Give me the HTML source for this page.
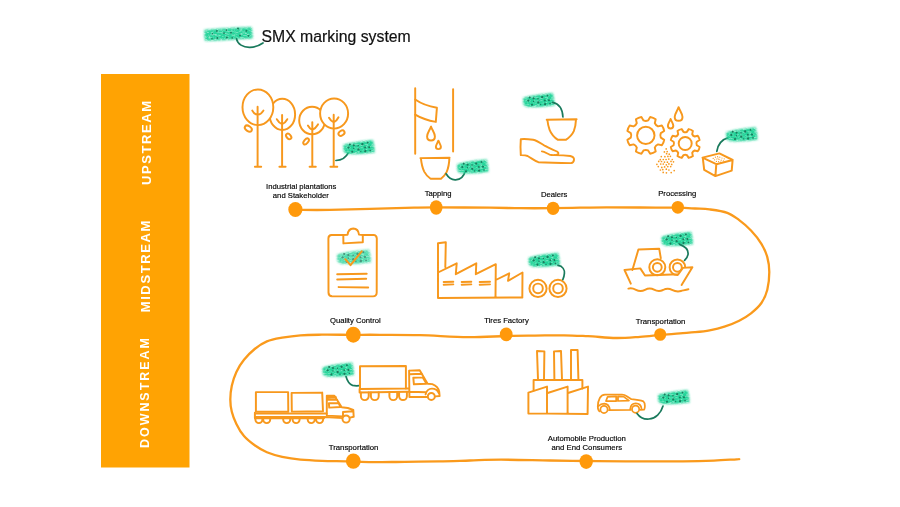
<!DOCTYPE html>
<html>
<head>
<meta charset="utf-8">
<title>SMX marking system</title>
<style>
html,body{margin:0;padding:0;background:#fff;}
body{width:900px;height:507px;overflow:hidden;font-family:"Liberation Sans",sans-serif;}
svg{display:block;}
text{font-family:"Liberation Sans",sans-serif;opacity:0.999;}
.o{fill:none;stroke:#F7981D;stroke-width:1.95;stroke-linecap:round;stroke-linejoin:round;}
.lbl{font-size:7.68px;fill:#000;stroke:#000;stroke-width:0.15px;text-anchor:middle;}
.v{font-size:13px;font-weight:bold;fill:#fff;letter-spacing:1.5px;text-anchor:middle;}
.stem{fill:none;stroke:#197A5C;stroke-width:1.7;stroke-linecap:round;}
</style>
</head>
<body>
<svg width="900" height="507" viewBox="0 0 900 507">
<defs>
<filter id="bl" x="-10%" y="-25%" width="120%" height="150%">
<feGaussianBlur in="SourceGraphic" stdDeviation="0.8" result="b"/>
<feTurbulence type="fractalNoise" baseFrequency="0.35 0.9" numOctaves="2" seed="3" result="n"/>
<feColorMatrix in="n" type="matrix" values="0 0 0 0 0  0 0 0 0 0  0 0 0 0 0  0 0 0 -1.4 1.62" result="m"/>
<feComposite in="b" in2="m" operator="in" result="c"/>
<feGaussianBlur in="c" stdDeviation="0.35"/>
</filter>
<filter id="bl2" x="-20%" y="-20%" width="140%" height="140%"><feGaussianBlur stdDeviation="0.3"/></filter>
<g id="tag">
<path d="M0.3,4.6 L10,2.4 L20,0.9 L29.8,0 L31,6 L31.6,12.4 L20,13.8 L8,14.2 L4.4,14 L0.6,12.2 L0.1,8 Z" fill="#22D398" filter="url(#bl)"/>
<path d="M1,6.2 L30,3.4 M1,9.6 L31,8.2 M3,12.2 L31,11.2" stroke="#3FDDA8" stroke-width="0.8" fill="none" opacity="0.55" filter="url(#bl2)"/>
<g fill="#1A7C5D" filter="url(#bl2)">
<circle cx="6.7" cy="4.4" r="1"/><circle cx="10.6" cy="5.4" r="1.05"/><circle cx="15" cy="5.7" r="0.8"/><circle cx="19.2" cy="4.2" r="1.15"/><circle cx="24.5" cy="2.6" r="0.95"/>
<circle cx="5.3" cy="7.6" r="1.05"/><circle cx="10.6" cy="8.4" r="0.7"/><circle cx="15.3" cy="9.4" r="1.15"/><circle cx="21.9" cy="7.5" r="0.95"/><circle cx="26" cy="7.3" r="1.05"/>
<circle cx="9" cy="11.8" r="1.05"/><circle cx="17.6" cy="11.6" r="0.7"/><circle cx="22.1" cy="11.2" r="1.15"/><circle cx="27" cy="10.6" r="0.8"/>
</g>
</g>
</defs>

<!-- SIDEBAR -->
<rect x="101" y="74" width="88.5" height="393.5" fill="#FFA303"/>
<text class="v" transform="translate(151.4,142.2) rotate(-90)" style="letter-spacing:1.57px">UPSTREAM</text>
<text class="v" transform="translate(150.1,265.65) rotate(-90)" style="letter-spacing:1.62px">MIDSTREAM</text>
<text class="v" transform="translate(149.1,392.1) rotate(-90)" style="font-size:12.5px;letter-spacing:1.95px">DOWNSTREAM</text>

<!-- LEGEND -->
<g id="legend">
<path d="M204.4,29.8 L220,28.6 L236,27.6 L251.8,26.9 L252.4,32 L252.8,38.4 L236,39.6 L220,40.6 L205,41 L204.2,35 Z" fill="#2BD59D" filter="url(#bl)"/>
<g fill="#1A7C5D" filter="url(#bl2)">
<circle cx="216.9" cy="31" r="0.9"/><circle cx="226.4" cy="30.1" r="0.85"/><circle cx="238" cy="28.6" r="1"/><circle cx="246.4" cy="30.9" r="0.95"/>
<circle cx="212.4" cy="33.8" r="0.8"/><circle cx="224" cy="33.1" r="0.95"/><circle cx="231" cy="32.8" r="0.95"/><circle cx="240" cy="35.6" r="1"/><circle cx="248.4" cy="35.8" r="0.9"/>
<circle cx="212" cy="38.7" r="0.8"/><circle cx="217.4" cy="38" r="0.95"/><circle cx="226.9" cy="37.5" r="0.95"/><circle cx="232.2" cy="37.9" r="0.8"/>
</g>
<path class="stem" d="M236.5,38.9 C237.5,44 243,47.6 250,47.4 C255,47.2 259.5,45.4 263,43"/>
<text x="261.5" y="41.8" font-size="15.8px" fill="#111" stroke="#111" stroke-width="0.2">SMX marking system</text>
</g>

<!-- TIMELINE -->
<g id="timeline">
<path d="M295.4,209.9 C301.2,209.9 317.6,210.1 330.0,209.9 C342.4,209.7 356.0,209.3 370.0,208.9 C384.0,208.5 403.0,207.9 414.0,207.7 C425.0,207.4 423.3,207.4 436.0,207.4 C448.7,207.4 476.0,207.6 490.0,207.7 C504.0,207.8 509.6,208.1 520.0,208.2 C530.5,208.3 542.7,208.3 552.7,208.2 C562.7,208.1 571.0,207.8 580.0,207.7 C589.0,207.5 596.7,207.3 606.7,207.3 C616.7,207.3 628.2,207.4 640.0,207.5 C651.8,207.6 668.5,207.5 677.7,207.7 C686.9,207.9 689.7,208.2 695.0,208.5 C700.3,208.8 704.2,208.7 709.6,209.4 C715.0,210.1 722.4,211.0 727.3,212.8 C732.2,214.6 735.2,217.2 739.2,220.1 C743.2,223.0 747.3,226.6 751.0,230.5 C754.7,234.4 758.7,239.4 761.4,243.8 C764.1,248.2 766.0,252.4 767.3,257.1 C768.6,261.8 769.3,266.5 769.3,271.9 C769.3,277.3 768.6,284.5 767.3,289.7 C766.0,294.9 764.1,299.1 761.4,303.0 C758.7,306.9 754.7,310.4 751.0,313.3 C747.3,316.2 743.6,318.5 739.2,320.7 C734.8,322.9 729.3,325.1 724.4,326.7 C719.5,328.3 714.5,329.4 709.6,330.3 C704.7,331.2 699.7,331.7 694.8,332.2 C689.9,332.7 685.8,332.9 680.0,333.4 C674.2,333.9 666.7,334.4 660.0,335.0 C653.3,335.6 647.3,336.3 640.0,336.8 C632.7,337.3 624.7,338.1 616.0,338.0 C607.3,337.9 596.7,336.6 588.0,336.2 C579.3,335.8 572.8,335.4 564.0,335.3 C555.2,335.2 544.7,335.5 535.0,335.6 C525.3,335.7 517.2,335.7 506.0,336.0 C494.8,336.3 482.3,337.3 468.0,337.2 C453.7,337.1 434.7,335.6 420.0,335.2 C405.3,334.8 391.2,334.9 380.0,334.8 C368.8,334.7 362.7,334.8 353.0,334.8 C343.3,334.8 330.6,334.6 321.9,334.7 C313.1,334.8 307.1,334.8 300.5,335.3 C293.9,335.8 287.8,336.7 282.2,337.7 C276.6,338.7 271.5,339.5 266.9,341.4 C262.3,343.3 258.5,345.9 254.7,349.0 C250.9,352.1 247.1,355.9 244.0,359.7 C240.9,363.5 238.4,367.6 236.4,371.9 C234.4,376.2 232.8,381.1 231.8,385.7 C230.8,390.3 230.3,395.1 230.3,399.4 C230.3,403.7 230.8,407.6 231.8,411.7 C232.8,415.8 234.4,419.8 236.4,423.9 C238.4,428.0 240.9,432.5 244.0,436.1 C247.1,439.7 250.9,442.6 254.7,445.3 C258.5,448.0 262.3,450.4 266.9,452.3 C271.5,454.2 276.6,455.7 282.2,456.9 C287.8,458.1 293.9,459.0 300.5,459.6 C307.1,460.2 314.2,460.5 321.9,460.8 C329.5,461.1 338.0,461.1 346.4,461.3 C354.8,461.5 362.2,462.1 372.0,462.2 C381.8,462.3 393.8,461.9 405.0,461.8 C416.2,461.7 428.2,461.6 439.0,461.4 C449.8,461.2 459.7,460.8 470.0,460.5 C480.3,460.2 487.7,459.7 501.0,459.7 C514.3,459.7 535.8,460.3 550.0,460.5 C564.2,460.7 573.8,460.9 586.4,461.0 C599.0,461.1 609.5,461.3 625.6,461.4 C641.7,461.5 668.3,461.5 683.0,461.4 C697.7,461.3 705.0,461.0 714.0,460.6 C723.0,460.2 732.6,459.5 736.7,459.3 C740.9,459.1 738.5,459.2 738.9,459.2"
 fill="none" stroke="#FA9A1C" stroke-width="2.3" stroke-linecap="round" stroke-linejoin="round"/>
<g fill="#FF990B">
<ellipse cx="295.4" cy="209.5" rx="7.1" ry="7.4"/><ellipse cx="436.2" cy="207.5" rx="6.3" ry="7.3"/><ellipse cx="553.1" cy="208.3" rx="6.3" ry="6.65"/><ellipse cx="677.8" cy="207.3" rx="6.2" ry="6.4"/>
<ellipse cx="660.2" cy="334.5" rx="6.05" ry="6.3"/><ellipse cx="506.2" cy="334.4" rx="6.4" ry="6.8"/><ellipse cx="353.3" cy="334.7" rx="7.4" ry="8"/>
<ellipse cx="353.3" cy="461.1" rx="7.4" ry="7.6"/><ellipse cx="586.2" cy="461.6" rx="6.7" ry="7.4"/>
</g>
</g>

<!-- ICONS -->
<g id="icons">
<!-- TREES -->
<g class="o">
<ellipse cx="282.3" cy="114.4" rx="12.8" ry="15.6"/>
<ellipse cx="312.1" cy="120.5" rx="12.9" ry="13.8"/>
<ellipse cx="257.9" cy="107.3" rx="15.4" ry="17.8" fill="#fff"/>
<ellipse cx="334.1" cy="113.5" rx="14" ry="15.1" fill="#fff"/>
<path d="M257.6,106.7 L257.6,166.6 M254.9,166.7 L261.2,166.7 M252.3,110.6 Q254,114.2 257.6,114.8 Q261.4,114.2 263.4,110.6"/>
<path d="M282.1,115 L282.1,166.6 M279.4,166.7 L285.6,166.7 M276.8,119.2 Q279,123 282.1,124.2 Q285.2,123 287.3,119.2"/>
<path d="M312.3,122.1 L312.3,166.6 M309.6,166.7 L315.8,166.7 M307.9,125.6 Q309.8,129 312.3,129.9 Q315.4,128.6 318,124.4"/>
<path d="M333.7,114.7 L333.7,166.6 M330.4,166.7 L337.3,166.7 M329,117.8 Q331,121.4 333.7,122.4 Q336.6,121.2 338.5,117.3"/>
<ellipse cx="248.3" cy="128.6" rx="3.9" ry="2.5" transform="rotate(35 248.3 128.6)"/>
<ellipse cx="288.7" cy="136.4" rx="3.2" ry="2.1" transform="rotate(50 288.7 136.4)"/>
<ellipse cx="306.1" cy="141.4" rx="3.6" ry="2" transform="rotate(-50 306.1 141.4)"/>
<ellipse cx="341.5" cy="133.1" rx="3.3" ry="2.3" transform="rotate(-35 341.5 133.1)"/>
</g>
<path class="stem" d="M348.4,152.6 C346,157.5 342,160.2 335.9,160.5"/>
<use href="#tag" x="343.2" y="140"/>
<!-- TAPPING -->
<g class="o">
<path d="M415.2,88.2 L415.2,153.8 M453.1,89.1 L453.1,151.6"/>
<path d="M415.2,99.5 Q424,105.6 436.9,107.8 L435.8,121.9 Q424,120 415.2,114.7"/>
<path d="M431,126.6 C429.6,130.4 427.1,133.2 427.1,136.4 C427.1,138.8 428.8,140.4 431,140.4 C433.2,140.4 434.9,138.8 434.9,136.4 C434.9,133.2 432.4,130.4 431,126.6 Z"/>
<path d="M438.4,140.7 C437.5,143.2 435.9,145 435.9,146.8 C435.9,148.2 437,149.1 438.4,149.1 C439.8,149.1 440.9,148.2 440.9,146.8 C440.9,145 439.3,143.2 438.4,140.7 Z"/>
<path d="M420.4,158.1 L449.6,157.7 M420.9,158.2 C421.4,163.5 422.4,168 424.2,171.6 C425.8,174.6 428,177 430.6,178.7 L441,178.7 C443.4,176.8 445.4,174.6 446.7,171.9 C448.4,168 449.2,163.5 449.4,157.9"/>
</g>
<path class="stem" d="M446.1,173.8 C448.5,177.8 452,180 455.6,179.8 C460.5,179.5 464,176 465.2,171.2"/>
<use href="#tag" x="457" y="159.4"/>

<!-- DEALERS -->
<use href="#tag" x="523" y="93"/>
<path class="stem" d="M552.6,102.4 C558.5,103.6 562.5,108.5 562.9,117"/>
<g class="o">
<path d="M546.7,119.8 L576.6,119.3 M547.4,120 C547.8,123.8 548.4,126.8 549.6,129.8 C551.4,134.2 554.4,137.6 558,139.8 L565.8,139.8 C569.4,137.6 572.2,134.8 573.8,131.2 C575.2,127.8 575.8,123.8 576,119.6"/>
<path d="M541.9,151.4 C544.6,151.6 547,153.6 549.6,154.6 C551.4,155.2 553,155.2 554.6,155.1"/>
<path d="M520.8,139.2 C524.5,138.8 529,139.2 533.2,139.7 C537.6,140.6 541.5,143.8 545.6,146.2 C549.4,148.4 553.6,149.8 557,151.5 C558.6,152.4 558.7,153.4 557.8,154.2 C556.8,155 555.6,155.1 554.4,155.1 C559.5,155.2 565,155.4 570.2,156 C572.8,156.6 574.2,158 574,159.8 C573.8,161.6 572.6,162.8 571,163.1 C560,163 549,162.8 538.4,162.2 C534.4,160.6 531.2,158 527.6,156 C525.4,155.2 523,155.2 520.8,155.1 C520.4,150 520.4,144.5 520.8,139.2 Z"/>
</g>

<!-- PROCESSING -->
<g class="o">
<path d="M660.8,137.7 L664.2,139.8 Q663.7,142.8 661.9,145.3 L658.0,144.4 Q655.7,145.3 654.8,147.6 L655.7,151.5 Q653.2,153.3 650.2,153.8 L648.1,150.4 Q645.8,149.4 643.5,150.4 L641.4,153.8 Q638.4,153.3 635.9,151.5 L636.8,147.6 Q635.9,145.3 633.6,144.4 L629.7,145.3 Q627.9,142.8 627.4,139.8 L630.8,137.7 Q631.8,135.4 630.8,133.1 L627.4,131.0 Q627.9,128.0 629.7,125.5 L633.6,126.4 Q635.9,125.5 636.8,123.2 L635.9,119.3 Q638.4,117.5 641.4,117.0 L643.5,120.4 Q645.8,121.4 648.1,120.4 L650.2,117.0 Q653.2,117.5 655.7,119.3 L654.8,123.2 Q655.7,125.5 658.0,126.4 L661.9,125.5 Q663.7,128.0 664.2,131.0 L660.8,133.1 Q659.8,135.4 660.8,137.7 Z"/><circle cx="645.8" cy="135.4" r="8.7"/>
<path d="M696.8,145.2 L699.6,147.0 Q699.3,149.4 697.8,151.2 L694.6,150.5 Q692.8,151.1 692.2,152.9 L692.9,156.1 Q691.1,157.6 688.7,157.9 L686.9,155.1 Q685.2,154.2 683.5,155.1 L681.7,157.9 Q679.3,157.6 677.5,156.1 L678.2,152.9 Q677.6,151.1 675.8,150.5 L672.6,151.2 Q671.1,149.4 670.8,147.0 L673.6,145.2 Q674.5,143.5 673.6,141.8 L670.8,140.0 Q671.1,137.6 672.6,135.8 L675.8,136.5 Q677.6,135.9 678.2,134.1 L677.5,130.9 Q679.3,129.4 681.7,129.1 L683.5,131.9 Q685.2,132.8 686.9,131.9 L688.7,129.1 Q691.1,129.4 692.9,130.9 L692.2,134.1 Q692.8,135.9 694.6,136.5 L697.8,135.8 Q699.3,137.6 699.6,140.0 L696.8,141.8 Q695.9,143.5 696.8,145.2 Z"/><circle cx="685.2" cy="143.5" r="6.5"/>
<path d="M678.6,107.2 C677.2,111 674.7,113.8 674.7,116.9 C674.7,119.2 676.4,120.8 678.6,120.8 C680.8,120.8 682.5,119.2 682.5,116.9 C682.5,113.8 680,111 678.6,107.2 Z"/>
<path d="M670.6,119 C669.6,121.8 667.9,123.6 667.9,125.8 C667.9,127.4 669.1,128.5 670.6,128.5 C672.1,128.5 673.3,127.4 673.3,125.8 C673.3,123.6 671.6,121.8 670.6,119 Z"/>
<path style="stroke-width:2" d="M702.5,157.6 L719.4,153.4 L732.7,160 L716.3,164.2 Z M702.8,158 L704.2,169.8 L715.4,176.1 L731.7,170.6 L732.6,160.2 M716.3,164.2 L715.4,176.1"/>
</g>
<g fill="#F7981D"><circle cx="666.2" cy="148.9" r="0.85"/><circle cx="664.4" cy="151.9" r="0.85"/><circle cx="667.2" cy="151.6" r="0.85"/><circle cx="666.6" cy="153.7" r="0.85"/><circle cx="669.2" cy="154.2" r="0.85"/><circle cx="661.3" cy="156.6" r="0.85"/><circle cx="664.9" cy="156.7" r="0.85"/><circle cx="667.9" cy="156.4" r="0.85"/><circle cx="670.4" cy="156.3" r="0.85"/><circle cx="660.3" cy="159.7" r="0.85"/><circle cx="663.3" cy="159.5" r="0.85"/><circle cx="666.1" cy="159.5" r="0.85"/><circle cx="668.8" cy="159.1" r="0.85"/><circle cx="672.3" cy="159.5" r="0.85"/><circle cx="658.7" cy="161.4" r="0.85"/><circle cx="661.5" cy="161.5" r="0.85"/><circle cx="664.5" cy="162.1" r="0.85"/><circle cx="667.4" cy="162.2" r="0.85"/><circle cx="671.0" cy="161.4" r="0.85"/><circle cx="673.5" cy="161.8" r="0.85"/><circle cx="656.9" cy="164.3" r="0.85"/><circle cx="660.7" cy="164.0" r="0.85"/><circle cx="663.3" cy="164.0" r="0.85"/><circle cx="666.3" cy="164.8" r="0.85"/><circle cx="668.9" cy="163.9" r="0.85"/><circle cx="671.7" cy="164.4" r="0.85"/><circle cx="658.3" cy="166.6" r="0.85"/><circle cx="661.8" cy="167.4" r="0.85"/><circle cx="664.6" cy="166.9" r="0.85"/><circle cx="667.8" cy="166.6" r="0.85"/><circle cx="670.7" cy="166.6" r="0.85"/><circle cx="660.4" cy="170.0" r="0.85"/><circle cx="662.8" cy="169.6" r="0.85"/><circle cx="666.3" cy="169.2" r="0.85"/><circle cx="668.9" cy="170.0" r="0.85"/><circle cx="674.2" cy="170.6" r="0.85"/><circle cx="671.2" cy="172.6" r="0.85"/><circle cx="663.2" cy="172.4" r="0.85"/><circle cx="666.4" cy="172.8" r="0.85"/><circle cx="713.2" cy="158.4" r="0.6"/><circle cx="715.4" cy="157.2" r="0.6"/><circle cx="717.6" cy="156.6" r="0.6"/><circle cx="719.8" cy="157.2" r="0.6"/><circle cx="722.0" cy="158.0" r="0.6"/><circle cx="724.2" cy="158.8" r="0.6"/><circle cx="714.6" cy="159.8" r="0.6"/><circle cx="716.8" cy="159.0" r="0.6"/><circle cx="719.0" cy="159.4" r="0.6"/><circle cx="721.2" cy="160.2" r="0.6"/><circle cx="723.4" cy="160.8" r="0.6"/><circle cx="716.4" cy="161.4" r="0.6"/><circle cx="718.6" cy="161.6" r="0.6"/><circle cx="720.6" cy="162.2" r="0.6"/><circle cx="718.0" cy="158.0" r="0.6"/></g>
<path class="stem" d="M716.8,151.4 C717.8,144.5 721.6,139.6 728.4,137.6"/>
<use href="#tag" x="726" y="127.3"/>
<!-- QUALITY CONTROL -->
<g transform="translate(336.9,249.6) scale(1.08,1.02)" opacity="0.8"><use href="#tag"/></g>
<g class="o">
<path d="M343.4,235 L331.6,235 Q328.4,235.2 328.4,238.4 L328.5,292.6 Q328.6,296 332,296.2 L373,296.4 Q376.6,296.2 376.7,292.8 L376.8,238.4 Q376.6,235 373.4,234.9 L362.8,234.9"/>
<path d="M343.3,235 L343.4,243.4 L362.8,242.2 L362.8,235 L359,234.6 C358.6,231 356.4,228.6 353.3,228.5 C350,228.6 348,231 347.6,234.7 Z"/>
<path style="stroke-width:2" d="M345.3,259.2 L350.5,265.2 L361.7,251.4"/>
<path d="M337.2,274.2 L366.7,273.7 M337.2,279.5 L366.2,278.7 M338.6,287.1 L368.2,287.5"/>
</g>

<!-- TIRES FACTORY -->
<g class="o">
<path d="M438,243.3 L445.8,242.2 L445.3,267 M438,243.3 L438,298 L522.4,297.5 M438,272.5 L456.7,263.3 L455.8,274.2 L476.3,263.3 L475.8,274.2 L495.8,264.2 L495.5,297.5 M495.8,280 L509.2,273.3 L508,280.8 L522.5,272.5 L522.3,297.5"/>
<path d="M443.7,282 L453.3,281.7 M443.7,284.8 L453.3,284.4 M461.7,282 L471.3,281.7 M461.7,284.8 L471.3,284.4 M479.7,282 L490,281.7 M479.7,284.8 L490,284.4"/>
<circle cx="538" cy="288.4" r="8.6"/><circle cx="538" cy="288.4" r="4.8"/>
<circle cx="558" cy="288.4" r="8.6"/><circle cx="558" cy="288.4" r="4.8"/>
</g>
<use href="#tag" x="528.4" y="252.8"/>
<path class="stem" d="M558,265.4 C563,266 564.6,270 564.4,273.4 C564.2,276 563.6,278 562.8,279.6"/>


<!-- TRUCK 1 (lower left) -->
<g class="o">
<path d="M255.9,392.1 L288.1,392.1 L288.3,411.7 L255.9,411.7 Z M291.6,392.9 L322.2,392.6 L323,411.3 L291.8,411.6 Z"/>
<path d="M254.9,412.6 L254.9,418.1 M254.9,413.4 L326.6,413.4 M255.2,416.9 L324.6,417 L342.9,418.1 M254.9,418.2 L324,418.2"/>
<path d="M255.4,418.2 L255.4,419.6 A3.5,3.5 0 0 0 262.4,419.6 L262.4,418.2 M263.2,418.2 L263.2,419.6 A3.5,3.5 0 0 0 270.2,419.6 L270.2,418.2 M283.2,418.2 L283.2,419.6 A3.5,3.5 0 0 0 290.2,419.6 L290.2,418.2 M292.6,418.2 L292.6,419.6 A3.5,3.5 0 0 0 299.6,419.6 L299.6,418.2 M307.7,418.2 L307.7,419.6 A3.5,3.5 0 0 0 314.7,419.6 L314.7,418.2 M316.1,418.2 L316.1,419.6 A3.5,3.5 0 0 0 323.1,419.6 L323.1,418.2"/>
<path d="M326.8,395.8 L334.4,395.8 L341.7,407.2 L347.8,408 L353.3,410 L353.7,416.8 L350,417.6 M326.8,395.8 L326.8,415.6 L342.6,416.4 M327.3,397.8 L336,397.3 M327.3,399.8 L337.2,399.8 M328.9,403.3 L338.6,403.1 L340.5,407 L329.2,407.6 Z M343,416 L343,412 L352.8,411.2"/>
<circle cx="346.1" cy="419" r="3.6" fill="#fff"/>
</g>

<!-- TRUCK 2 (upper right) -->
<use href="#tag" x="322.4" y="362.6"/>
<path class="stem" d="M346,376.6 C347.4,381.6 350,384.6 352.6,385.4 C355,386 357.4,385.9 359.2,385.7"/>
<g class="o">
<path d="M360,366.3 L405.9,366 L405.9,388.5 L360,389 Z"/>
<path d="M359.6,389 L359.6,392.5 L408.6,391.8 M405.9,388.5 L408.8,388.5"/>
<path d="M360.9,392.4 L360.9,396.2 A3.9,3.9 0 0 0 368.7,396.2 L368.7,392.4 M370.9,392.4 L370.9,396.2 A3.9,3.9 0 0 0 378.7,396.2 L378.7,392.4 M389.4,392.4 L389.4,396.2 A3.9,3.9 0 0 0 397.2,396.2 L397.2,392.4 M399.1,392.4 L399.1,396.2 A3.9,3.9 0 0 0 406.9,396.2 L406.9,392.4"/>
<path d="M409.1,370.6 L419.7,370.2 L427.6,383.7 L432.3,384.1 C436.4,385.6 438.6,388.4 439.2,391.7 L439.6,396 L435.6,396.4 M409.1,370.6 L409.4,396.9 L427.2,396.9 M409.6,374.2 L422,373.7 M413.3,377.7 L422.8,377.4 L426.5,383.7 L413.9,384.3 Z M410.2,391.8 L426,392.2 M425.6,394.4 C426.4,390.8 428.8,388.6 432,388.6 C435.4,388.6 437.8,390.6 438.8,393"/>
<circle cx="431.3" cy="396.4" r="3.5" fill="#fff"/>
</g>

<!-- FACTORY 2 -->
<g class="o">
<path d="M537,351 L544.4,351.4 L544,379.6 M537,351 L538,379.6 M554,351.4 L561,351 L562,379.6 M554,351.4 L554.4,379.6 M571,350 L577.6,350 L578.4,379.6 M571,350 L571,379.6"/>
<path d="M533.6,390.6 L533.6,380 L582.4,380 L582.4,388.4"/>
<path d="M528.4,413.4 L528.4,392.6 L547,386.6 L547,413.4 M547.6,393 L567.6,386.6 L567.6,413.4 M568,393 L588,386.6 L587.6,414 M528.4,413.4 L587.6,414"/>
</g>

<!-- CAR -->
<g class="o" style="stroke-width:1.75">
<path d="M599.6,411.4 C598.2,410.6 597.8,409 597.8,406.6 C597.8,403.6 598.4,400.6 599.8,398 C601,395.8 602.6,394.7 605,394.6 L622,394.5 C623.6,394.6 625,395 626.4,396 L631.4,399.2 C636,399.6 640.4,400.2 643.4,401.4 C644.6,402.4 644.9,404 644.9,406 C644.9,407.6 644.6,408.8 644.2,409.6 L640.4,409.9"/>
<path d="M609,410.2 L630.6,410"/>
<circle cx="604" cy="409.4" r="3.6"/><circle cx="635.6" cy="409.2" r="3.6"/>
<path d="M598.6,406 C600,404.4 602,403.6 604.2,403.6 C607.4,403.8 609.4,406 609.8,409.6 M630.2,409.4 C630.4,405.8 632.6,403.4 635.8,403.4 C639,403.4 641.2,405.6 641.6,409"/>
<path d="M606,401 L607.6,396.8 L616.2,396.4 L616.2,401 Z M618,401 L618,396.4 L623.6,396.6 L629,400.6 Z"/>
</g>
<path class="stem" d="M637,413.4 C640,417.6 644.4,419.4 649,419 C655.4,418.4 661,413.4 663,406"/>
<use href="#tag" x="658" y="390"/>
<!-- BOAT -->
<use href="#tag" x="661.4" y="231.8"/>
<path class="stem" d="M679.8,244.4 C685.5,246.6 688.6,250.6 688,254.6 C687.6,257 686,259 684.6,260.4"/>
<g class="o">
<circle cx="657.3" cy="267.3" r="8"/><circle cx="657.3" cy="267.3" r="4.4"/>
<circle cx="677.4" cy="267.3" r="7.8"/><circle cx="677.4" cy="267.3" r="4.4"/>
<path d="M678.2,274.3 L682.9,267.9 L692.4,267.3 L688,277 L678.6,277.4 Z" fill="#fff" stroke="none"/>
<path d="M632.4,270 L638.4,249.5 L659.2,248.7 L660.8,258.2"/>
<path d="M630.8,283.7 L624.5,270 L640.3,268.4 L645,275.5 L678.2,274.3 L682.9,267.9 L692.4,267.3 L681.6,285"/>
<path d="M628.4,288.6 C631,287.6 633.5,288.4 636,289.8 C639,291.4 642,291.4 645,289.8 C648,288.2 651,288 654,289.6 C657,291.2 660,291.4 663,290 C666,288.4 669,288.2 672,289.8 C675,291.4 678,291.8 681,291 C683.6,290.4 686,289.8 688.4,289.3"/>
</g>


</g>

<!-- LABELS -->
<g id="labels">
<text class="lbl" x="301.2" y="189.2">Industrial plantations</text>
<text class="lbl" x="300.8" y="197.6">and Stakeholder</text>
<text class="lbl" x="438.1" y="196">Tapping</text>
<text class="lbl" x="554.2" y="196.8">Dealers</text>
<text class="lbl" x="677.2" y="196.1">Processing</text>
<text class="lbl" x="355.3" y="323.3">Quality Control</text>
<text class="lbl" x="506.5" y="323.1">Tires Factory</text>
<text class="lbl" x="660.6" y="324.1" style="font-size:7.75px">Transportation</text>
<text class="lbl" x="353.6" y="449.6" style="font-size:7.75px">Transportation</text>
<text class="lbl" x="586.8" y="441.1" style="font-size:7.75px">Automobile Production</text>
<text class="lbl" x="586.8" y="450.3" style="font-size:7.75px">and End Consumers</text>
</g>
</svg>
</body>
</html>
